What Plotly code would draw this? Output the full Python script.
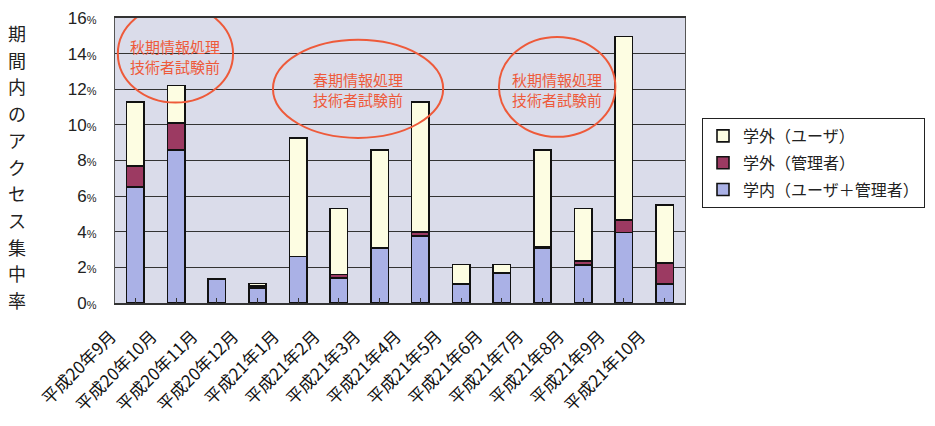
import plotly.graph_objects as go

months = ["平成20年9月", "平成20年10月", "平成20年11月", "平成20年12月", "平成21年1月",
          "平成21年2月", "平成21年3月", "平成21年4月", "平成21年5月", "平成21年6月",
          "平成21年7月", "平成21年8月", "平成21年9月", "平成21年10月"]
inside_all = [6.5, 8.6, 1.35, 0.85, 2.6, 1.4, 3.1, 3.75, 1.07, 1.67, 3.05, 2.15, 3.95, 1.08]
outside_admin = [1.2, 1.5, 0.0, 0.12, 0.0, 0.2, 0.0, 0.22, 0.0, 0.0, 0.11, 0.2, 0.7, 1.18]
outside_user = [3.6, 2.1, 0.0, 0.13, 6.65, 3.7, 5.5, 7.33, 1.1, 0.5, 5.44, 2.95, 10.31, 3.24]
yticks = [0, 2, 4, 6, 8, 10, 12, 14, 16]
ytitle = "期間内のアクセス集中率"
notes = ["秋期情報処理<br>技術者試験前", "春期情報処理<br>技術者試験前", "秋期情報処理<br>技術者試験前"]

FONT = "Noto Sans CJK JP"
idx = list(range(len(months)))

fig = go.Figure()
line = dict(color="#111111", width=1.6)
fig.add_trace(go.Bar(x=idx, y=inside_all, name="学内（ユーザ＋管理者）", legendgroup="c", legendrank=3,
                     marker=dict(color="#aab1e6", line=line), width=0.43))
fig.add_trace(go.Bar(x=idx, y=outside_admin, name="学外（管理者）", legendgroup="b", legendrank=2,
                     marker=dict(color="#9c3a62", line=line), width=0.43))
fig.add_trace(go.Bar(x=idx, y=outside_user, name="学外（ユーザ）", legendgroup="a", legendrank=1,
                     marker=dict(color="#fdfde2", line=line), width=0.43))

# plot area: x 115..685, y 18..303 px
L, R, T, B = 115, 685, 18, 303
W, H = 935, 426

fig.update_layout(
    width=W, height=H,
    margin=dict(l=L, r=W - R, t=T, b=H - B, autoexpand=False),
    barmode="stack", bargap=0.57,
    paper_bgcolor="white", plot_bgcolor="#dadcea",
    font=dict(family=FONT, color="#222222"),
    showlegend=True,
    legend=dict(x=(702 - L) / (R - L), y=(B - 118) / (B - T), xanchor="left", yanchor="top",
                traceorder="grouped", bordercolor="#222222", borderwidth=1,
                bgcolor="white", font=dict(size=16, family=FONT, color="#222222"),
                itemwidth=30, tracegroupgap=3),
    xaxis=dict(tickmode="array", tickvals=idx, ticktext=months, tickangle=-45,
               range=[-0.5, len(months) - 0.5], tickfont=dict(size=17, family=FONT, color="#111111"),
               ticks="inside", ticklen=5, tickcolor="#333333", tickson="boundaries",
               ticklabelstandoff=15, ticklabelshift=-24,
               showline=True, linecolor="#333333", linewidth=1.5, mirror=True, showgrid=False),
    yaxis=dict(range=[0, 16], tickvals=yticks,
               ticktext=[f"{v}<span style='font-size:11px'>%</span>" for v in yticks],
               tickfont=dict(size=17, family="Liberation Sans", color="#222222"),
               showgrid=True, gridcolor="#333333", gridwidth=1.2,
               showline=True, linecolor="#555555", linewidth=1.2, mirror=True,
               ticks="", ticklabelstandoff=14, zeroline=False),
)

# vertical y-axis title, one character per line
ys = [33 + i * 26.7 for i in range(len(ytitle))]
for ch, py in zip(ytitle, ys):
    fig.add_annotation(text=ch, xref="paper", yref="paper", x=(17 - L) / (R - L), y=(B - py) / (B - T),
                       showarrow=False, font=dict(size=18, family=FONT, color="#222222"),
                       xanchor="center", yanchor="middle")

# ellipses with notes
red = "#ee5a3a"
ellipses = [(-0.43, 2.4, 11.25, 16.75), (3.38, 7.56, 9.27, 14.78), (8.93, 11.79, 9.33, 14.94)]
centers = [(0.97, 13.85), (5.47, 11.97), (10.36, 11.97)]
for (x0, x1, y0, y1), (cx, cy), t in zip(ellipses, centers, notes):
    fig.add_shape(type="circle", xref="x", yref="y", x0=x0, x1=x1, y0=y0, y1=y1,
                  line=dict(color=red, width=2), layer="above")
    fig.add_annotation(text=t, xref="x", yref="y", x=cx, y=cy, showarrow=False,
                       font=dict(size=15, family=FONT, color=red), align="center")

fig.write_html("out.html")
